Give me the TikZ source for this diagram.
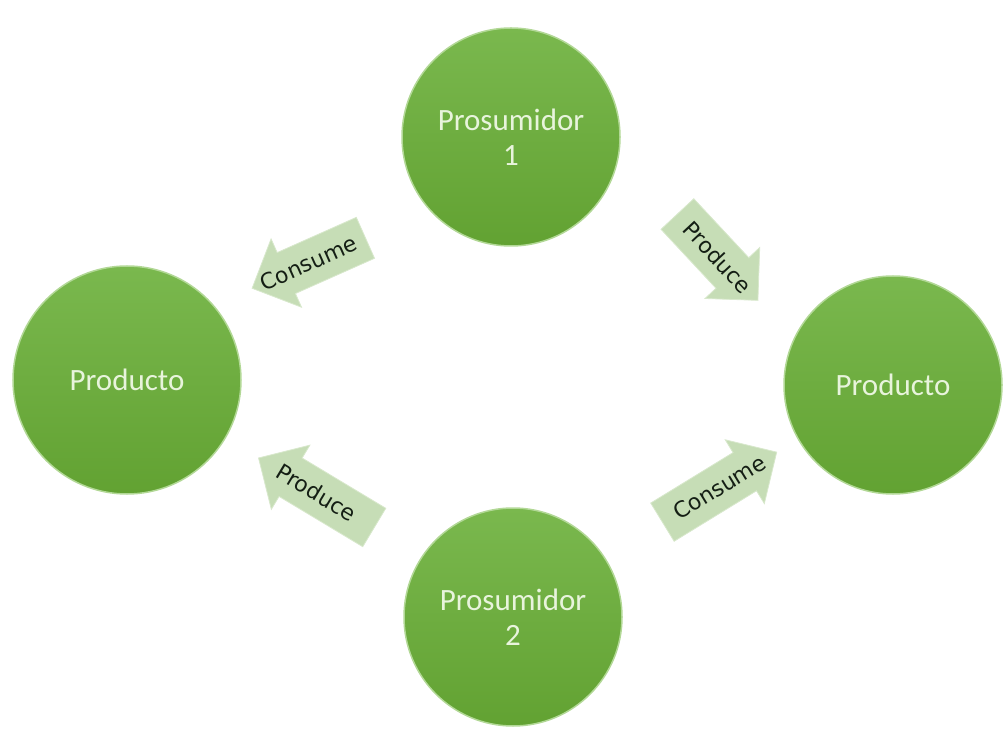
\documentclass[tikz,border=0pt]{standalone}
\usepackage{fontspec}
\setmainfont{Carlito}
\newfontfamily\pfeilfont{DejaVu Sans}
\usetikzlibrary{calc,shapes.arrows}

\definecolor{kreishell}{RGB}{122,184,78}
\definecolor{kreisdunkel}{RGB}{98,162,50}
\definecolor{kreisrand}{RGB}{178,216,150}
\definecolor{kreisschrift}{RGB}{232,244,220}
\definecolor{pfeilgruen}{RGB}{198,221,182}
\definecolor{pfeilrand}{RGB}{216,232,204}
\definecolor{pfeilschrift}{RGB}{20,30,20}

\begin{document}
\begin{tikzpicture}[x=1pt,y=1pt,
  kreis/.style={circle, draw=kreisrand, line width=1.5pt, top color=kreishell,
    bottom color=kreisdunkel, inner sep=0pt, minimum size=218pt,
    text=kreisschrift, align=center, font=\fontsize{31}{35}\selectfont},
  blockpfeil/.style={single arrow, draw=pfeilrand, fill=pfeilgruen, line width=0.8pt,
    inner xsep=0pt, inner ysep=22pt, single arrow head extend=15pt},
  pfeiltext/.style={font=\pfeilfont\fontsize{22}{26}\selectfont, text=pfeilschrift,
    inner sep=0pt}]
\useasboundingbox (0,0) rectangle (1003,734);

%KREIS OBEN (Prosumidor 1)
\node[kreis] (prosumidor1) at (511,597) {Prosumidor\\1};

%KREIS LINKS (Producto)
\node[kreis, minimum size=228pt] (producto1) at (127,354) {Producto};

%KREIS RECHTS (Producto)
\node[kreis] (producto2) at (893,349) {Producto};

%KREIS UNTEN (Prosumidor 2)
\node[kreis] (prosumidor2) at (513,117) {Prosumidor\\2};



%PFEIL OBEN LINKS (Consume)
\node[blockpfeil, minimum height=124pt, rotate=204] (consume1)
  at ($(prosumidor1)!0.5!(producto1)$) {};
\node[pfeiltext, rotate=24] (consume1text) at ($(consume1.tip)!0.5!(consume1.tail)$) {Consume};

%PFEIL OBEN RECHTS (Produce)
\node[blockpfeil, minimum height=118pt, rotate=-47] (produce1)
  at ($(prosumidor1)!0.5!(producto2)+(8,12)$) {};
\node[pfeiltext, rotate=-47] (produce1text) at ($(produce1.tip)!0.5!(produce1.tail)$) {Produce};

%PFEIL UNTEN LINKS (Produce)
\node[blockpfeil, minimum height=135pt, rotate=149] (produce2)
  at ($(prosumidor2)!0.5!(producto1)+(6,0)$) {};
\node[pfeiltext, rotate=-31] (produce2text) at ($(produce2.tip)!0.5!(produce2.tail)$) {Produce};

%PFEIL UNTEN RECHTS (Consume)
\node[blockpfeil, minimum height=134pt, rotate=31.5] (consume2)
  at ($(prosumidor2)!0.5!(producto2)+(7,8)$) {};
\node[pfeiltext, rotate=31.5] (consume2text) at ($(consume2.tip)!0.5!(consume2.tail)$) {Consume};

\end{tikzpicture}
\end{document}
